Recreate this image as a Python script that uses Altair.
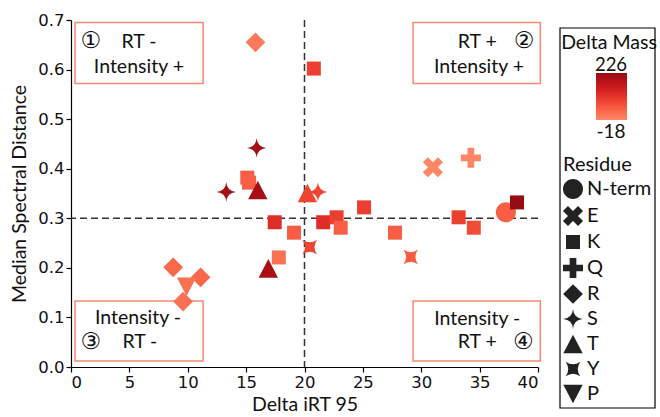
import math
import altair as alt
import pandas as pd

# ---- data -------------------------------------------------------------
delta_irt = [15.8, 20.8, 15.9, 13.3, 15.1, 15.25, 16.0, 20.25, 21.15, 17.45,
             19.1, 21.6, 22.75, 23.1, 20.45, 17.8, 16.9, 8.75, 11.1, 9.9,
             9.6, 25.1, 27.75, 33.2, 34.5, 37.25, 38.2, 31.0, 34.25, 29.1]
spectral_dist = [0.655, 0.602, 0.442, 0.353, 0.382, 0.372, 0.357, 0.351, 0.353, 0.292,
                 0.271, 0.292, 0.302, 0.281, 0.242, 0.221, 0.199, 0.201, 0.181, 0.162,
                 0.132, 0.322, 0.271, 0.302, 0.281, 0.312, 0.332, 0.403, 0.422, 0.222]
residue = ["R", "K", "S", "S", "K", "K", "T", "T", "S", "K",
           "K", "K", "K", "K", "Y", "K", "T", "R", "R", "P",
           "R", "K", "K", "K", "K", "N-term", "K", "E", "Q", "Y"]
delta_mass = [1, 86, 203, 203, 42, 42, 203, 80, 80, 114,
              42, 114, 86, 42, 80, 14, 203, 28, 28, 16,
              14, 86, 42, 86, 68, 42, 226, -18, -17, 45]

residue_order = ["N-term", "E", "K", "Q", "R", "S", "T", "Y", "P"]
mass_range = [-18, 226]

# quadrant boxes (data units)
box_x0 = [0.34, 29.3, 0.34, 29.3]
box_x1 = [11.31, 40.2, 11.31, 40.2]
box_y0 = [0.572, 0.572, 0.012, 0.012]
box_y1 = [0.695, 0.695, 0.133, 0.133]

# quadrant captions
cap_text = ["RT -", "Intensity +", "RT +", "Intensity +",
            "Intensity -", "RT -", "Intensity -", "RT +"]
cap_x = [5.82, 5.82, 34.8, 34.95, 5.74, 5.9, 34.8, 34.8]
cap_y = [0.656, 0.605, 0.656, 0.605, 0.099, 0.050, 0.097, 0.050]
num_text = ["①", "②", "③", "④"]
num_x = [1.7, 38.8, 1.7, 38.75]
num_y = [0.658, 0.658, 0.050, 0.050]

# ---- marker shapes ----------------------------------------------------
def poly(pts):
    return "M" + "L".join(f"{x:.3f},{y:.3f}" for x, y in pts) + "Z"


def plus_pts(L, w):
    return [(-w, -L), (w, -L), (w, -w), (L, -w), (L, w), (w, w),
            (w, L), (-w, L), (-w, w), (-L, w), (-L, -w), (-w, -w)]


def rot45(pts):
    s = 1 / math.sqrt(2)
    return [((x - y) * s, (x + y) * s) for x, y in pts]


r_c = 1.43
shape_circle = f"M{r_c},0A{r_c},{r_c},0,1,1,{-r_c},0A{r_c},{r_c},0,1,1,{r_c},0Z"
shape_x = poly(rot45(plus_pts(1.52, 0.505)))
shape_square = "M-1,-1L1,-1L1,1L-1,1Z"
shape_plus = poly(plus_pts(1.43, 0.477))
shape_diamond = "M0,-1.41L1.41,0L0,1.41L-1.41,0Z"
shape_star4 = ("M0,-1.38Q0.12,-0.12,1.38,0Q0.12,0.12,0,1.38"
               "Q-0.12,0.12,-1.38,0Q-0.12,-0.12,0,-1.38Z")
shape_tri_up = "M0,-1.33L1.38,1.33L-1.38,1.33Z"
shape_pinch = ("M-1.05,-1.05Q0,-0.3,1.05,-1.05Q0.3,0,1.05,1.05"
               "Q0,0.3,-1.05,1.05Q-0.3,0,-1.05,-1.05Z")
shape_tri_down = "M0,1.33L1.38,-1.33L-1.38,-1.33Z"
shape_range = [shape_circle, shape_x, shape_square, shape_plus, shape_diamond,
               shape_star4, shape_tri_up, shape_pinch, shape_tri_down]

# ---- layout -----------------------------------------------------------
W, H = 467, 347
LEFT, TOP = 71, 20
TEXT_FONT = "Lato"
TICK_FONT = "DejaVu Sans"
BOX_COLOR = "#f58a70"

xscale = alt.Scale(domain=[0, 40], nice=False, zero=False)
yscale = alt.Scale(domain=[0, 0.7], nice=False, zero=False)
xaxis = alt.Axis(title="Delta iRT 95", values=list(range(0, 41, 5)), format="d")
yaxis = alt.Axis(title="Median Spectral Distance",
                 values=[0, 0.1, 0.2, 0.3, 0.4, 0.5, 0.6, 0.7], format=".1f")


def X(field="irt"):
    return alt.X(f"{field}:Q", scale=xscale, axis=xaxis)


def Y(field="dist"):
    return alt.Y(f"{field}:Q", scale=yscale, axis=yaxis)


points = pd.DataFrame({"irt": delta_irt, "dist": spectral_dist,
                       "Residue": residue, "Delta Mass": delta_mass})
boxes = pd.DataFrame({"irt": box_x0, "irt2": box_x1, "dist": box_y0, "dist2": box_y1})
captions = pd.DataFrame({"irt": cap_x, "dist": cap_y, "t": cap_text})
numbers = pd.DataFrame({"irt": num_x, "dist": num_y, "t": num_text})

box_layer = alt.Chart(boxes).mark_rect(
    fill="white", stroke=BOX_COLOR, strokeWidth=1.5
).encode(x=X(), x2="irt2:Q", y=Y(), y2="dist2:Q")

vline = alt.Chart(pd.DataFrame({"irt": [20]})).mark_rule(
    color="#333333", strokeWidth=1.5, strokeDash=[7, 4]
).encode(x=X())
hline = alt.Chart(pd.DataFrame({"dist": [0.3]})).mark_rule(
    color="#333333", strokeWidth=1.5, strokeDash=[7, 4]
).encode(y=Y())

caption_layer = alt.Chart(captions).mark_text(
    font=TEXT_FONT, fontSize=19.5, color="#111111", baseline="middle", align="center"
).encode(x=X(), y=Y(), text="t:N")
number_layer = alt.Chart(numbers).mark_text(
    font=TICK_FONT, fontSize=23, color="#111111", baseline="middle", align="center"
).encode(x=X(), y=Y(), text="t:N")

point_layer = alt.Chart(points).mark_point(
    filled=True, size=196, opacity=1, strokeWidth=0
).encode(
    x=X(),
    y=Y(),
    color=alt.Color(
        "Delta Mass:Q",
        scale=alt.Scale(scheme=alt.SchemeParams(name="reds", extent=[0.3, 1]),
                        domain=mass_range),
        legend=alt.Legend(orient="none", legendX=596 - LEFT, legendY=73 - TOP,
                          title=None, labelOpacity=0, labelFontSize=1,
                          tickCount=2, gradientLength=47,
                          gradientThickness=31, gradientStrokeWidth=0, padding=0),
    ),
    shape=alt.Shape(
        "Residue:N",
        scale=alt.Scale(domain=residue_order, range=shape_range),
        legend=alt.Legend(orient="none", legendX=563 - LEFT, legendY=155 - TOP,
                          title="Residue", titleFont=TEXT_FONT, titleFontSize=20,
                          titleFontWeight="normal", titleColor="#111111",
                          titlePadding=4, labelFont=TEXT_FONT, labelFontSize=20,
                          labelColor="#111111", labelOffset=4,
                          symbolSize=196, symbolFillColor="#222222",
                          symbolStrokeWidth=0, symbolStrokeColor="#222222",
                          rowPadding=5, padding=0),
    ),
)

# legend frame and gradient captions, placed in pixels around the plot
frame = alt.Chart(pd.DataFrame({"k": [0]})).mark_rect(
    fill=None, stroke="black", strokeWidth=1.2
).encode(x=alt.value(560 - LEFT), x2=alt.value(655 - LEFT),
         y=alt.value(28 - TOP), y2=alt.value(408 - TOP))


def pixel_text(text, px, py, size=19):
    return alt.Chart(pd.DataFrame({"t": [text]})).mark_text(
        font=TEXT_FONT, fontSize=size, color="#111111",
        align="center", baseline="middle"
    ).encode(x=alt.value(px - LEFT), y=alt.value(py - TOP), text="t:N")


chart = alt.layer(
    box_layer, vline, hline, caption_layer, number_layer, point_layer,
    frame,
    pixel_text("Delta Mass", 609, 42.5, size=19.5),
    pixel_text("226", 611, 64.5, size=18.5),
    pixel_text("-18", 611, 132),
).properties(
    width=W, height=H,
    autosize=alt.AutoSizeParams(type="none"),
    padding={"left": LEFT, "top": TOP, "right": 660 - LEFT - W, "bottom": 417 - TOP - H},
).configure_view(
    stroke=None
).configure_axis(
    grid=False, domainColor="black", domainWidth=1.2, tickColor="black",
    tickWidth=1.2, tickSize=5, labelFont=TICK_FONT, labelFontSize=16.5,
    labelColor="#111111", labelPadding=2, titleFont=TEXT_FONT, titleFontSize=19.5,
    titleFontWeight="normal", titleColor="#111111",
).configure_axisX(
    titlePadding=5
).configure_axisY(
    titlePadding=8
)

chart.save("out.html", embed_options={"renderer": "svg", "actions": False})
